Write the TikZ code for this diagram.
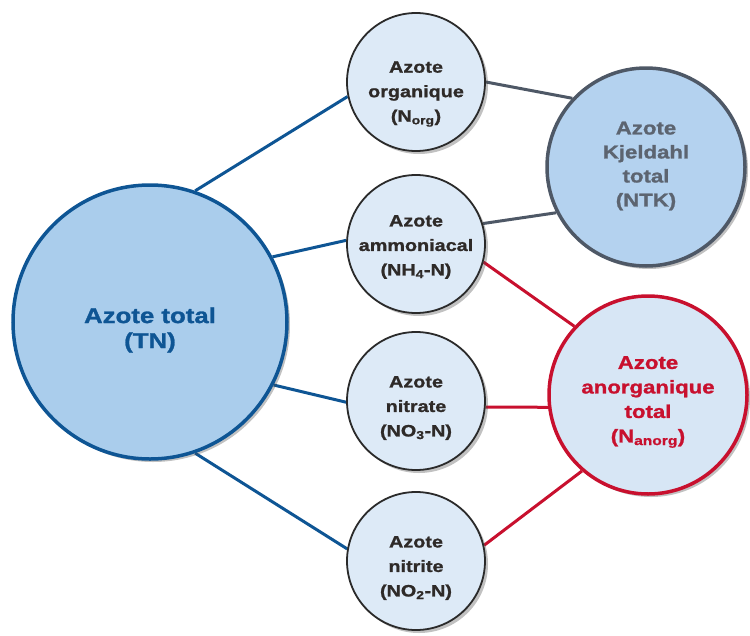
\documentclass[tikz,border=0pt]{standalone}
\usepackage{fontspec}
\setmainfont[FakeStretch=1.2, BoldFeatures={FakeBold=1.2}]{Liberation Sans}
\usetikzlibrary{shadows}
\definecolor{tnblue}{HTML}{0E5594}
\definecolor{tnfill}{HTML}{AACDEC}
\definecolor{smfill}{HTML}{DDEAF7}
\definecolor{smdraw}{HTML}{2A2A2A}
\definecolor{smtext}{HTML}{2E2A28}
\definecolor{ntkfill}{HTML}{B4D2EF}
\definecolor{ntkdraw}{HTML}{4E5866}
\definecolor{ntktext}{HTML}{5C6470}
\definecolor{anfill}{HTML}{D7E6F5}
\definecolor{anred}{HTML}{C8102E}
\pgfdeclarelayer{bg}
\pgfsetlayers{bg,main}
\tikzset{
  shad/.style={drop shadow={shadow xshift=3pt, shadow yshift=-3pt, opacity=0.35, fill=black!70}},
  bubble/.style={circle, inner sep=0pt, shad},
  smallc/.style={bubble, minimum size=138pt, fill=smfill, draw=smdraw, line width=1.8pt},
  tnc/.style={bubble, minimum size=274pt, fill=tnfill, draw=tnblue, line width=3.5pt},
  ntkc/.style={bubble, minimum size=198pt, fill=ntkfill, draw=ntkdraw, line width=3.5pt},
  anc/.style={bubble, minimum size=198pt, fill=anfill, draw=anred, line width=3.5pt},
  lbl/.style={inner sep=0pt, align=center},
  smallt/.style={lbl, text=smtext, font=\bfseries\fontsize{16.5}{24.5}\selectfont},
  tnt/.style={lbl, text=tnblue, font=\bfseries\fontsize{21.5}{25}\selectfont},
  ntkt/.style={lbl, text=ntktext, font=\bfseries\fontsize{18.5}{24}\selectfont},
  ant/.style={lbl, text=anred, font=\bfseries\fontsize{18.5}{24.5}\selectfont},
  blueline/.style={draw=tnblue, line width=3pt},
  grayline/.style={draw=ntkdraw, line width=3pt},
  redline/.style={draw=anred, line width=3pt},
}
\begin{document}
\begin{tikzpicture}[x=1pt, y=-1pt]
\useasboundingbox (0,0) rectangle (750,635);
\node[tnc] (tn) at (150,322) {};
\node[smallc] (org) at (416,82) {};
\node[smallc] (amm) at (416,244) {};
\node[smallc] (nitrate) at (416,401) {};
\node[smallc] (nitrite) at (416,561) {};
\node[ntkc] (ntk) at (646,167) {};
\node[anc] (anorg) at (648,395) {};
\node[tnt] (tnl) at (150,330) {Azote total\\(TN)};
\node[smallt] (orgl) at (416,94) {Azote\\organique\\(N\textsubscript{org})};
\node[smallt] (amml) at (416,247) {Azote\\ammoniacal\\(NH\textsubscript{4}-N)};
\node[smallt] (nitratel) at (416,408) {Azote\\nitrate\\(NO\textsubscript{3}-N)};
\node[smallt] (nitritel) at (416,568) {Azote\\nitrite\\(NO\textsubscript{2}-N)};
\node[ntkt] (ntkl) at (646,166) {Azote\\Kjeldahl\\total\\(NTK)};
\node[ant] (anorgl) at (648,402) {Azote\\anorganique\\total\\(N\textsubscript{anorg})};
\begin{pgfonlayer}{bg}
\draw[blueline] (tn.71) -- (org.192);
\draw[blueline] (tn.28) -- (amm.177);
\draw[blueline] (tn.-27) -- (nitrate.181);
\draw[blueline] (tn.-71) -- (nitrite.170);
\draw[grayline] (org.0) -- (ntk.137);
\draw[grayline] (amm.17) -- (ntk.207);
\draw[redline] (amm.-15) -- (anorg.137);
\draw[redline] (nitrate.-5) -- (anorg.187);
\draw[redline] (nitrite.13) -- (anorg.229);
\end{pgfonlayer}
\end{tikzpicture}
\end{document}
